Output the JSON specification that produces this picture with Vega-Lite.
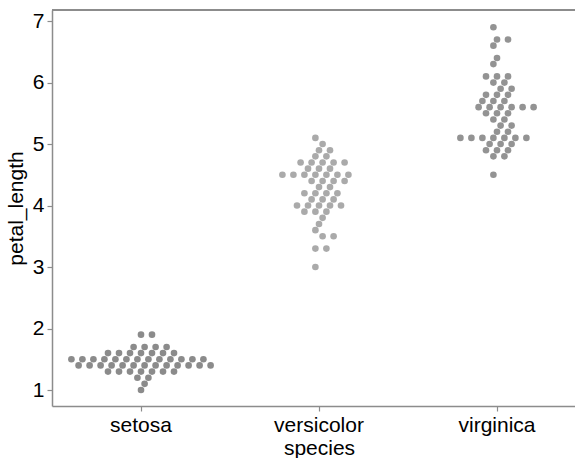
{
  "$schema": "https://vega.github.io/schema/vega-lite/v6.json",
  "width": 534,
  "height": 396,
  "padding": {"left": 5, "top": 9, "right": 0, "bottom": 0},
  "background": "white",
  "config": {
    "font": "Liberation Sans",
    "view": {"stroke": null},
    "axis": {
      "grid": false,
      "domainColor": "#8c8c8c",
      "domainWidth": 1.5,
      "tickColor": "#8c8c8c",
      "tickWidth": 1.2,
      "tickSize": 5,
      "labelColor": "black",
      "labelFontSize": 21,
      "titleFontSize": 21,
      "titleFontWeight": "normal",
      "titleColor": "black",
      "labelPadding": 3
    }
  },
  "data": {
    "values": [
      {"species": "setosa", "petal_length": 1.4}, {"species": "setosa", "petal_length": 1.4}, {"species": "setosa", "petal_length": 1.3}, {"species": "setosa", "petal_length": 1.5}, {"species": "setosa", "petal_length": 1.4},
      {"species": "setosa", "petal_length": 1.7}, {"species": "setosa", "petal_length": 1.4}, {"species": "setosa", "petal_length": 1.5}, {"species": "setosa", "petal_length": 1.4}, {"species": "setosa", "petal_length": 1.5},
      {"species": "setosa", "petal_length": 1.5}, {"species": "setosa", "petal_length": 1.6}, {"species": "setosa", "petal_length": 1.4}, {"species": "setosa", "petal_length": 1.1}, {"species": "setosa", "petal_length": 1.2},
      {"species": "setosa", "petal_length": 1.5}, {"species": "setosa", "petal_length": 1.3}, {"species": "setosa", "petal_length": 1.4}, {"species": "setosa", "petal_length": 1.7}, {"species": "setosa", "petal_length": 1.5},
      {"species": "setosa", "petal_length": 1.7}, {"species": "setosa", "petal_length": 1.5}, {"species": "setosa", "petal_length": 1.0}, {"species": "setosa", "petal_length": 1.7}, {"species": "setosa", "petal_length": 1.9},
      {"species": "setosa", "petal_length": 1.6}, {"species": "setosa", "petal_length": 1.6}, {"species": "setosa", "petal_length": 1.5}, {"species": "setosa", "petal_length": 1.4}, {"species": "setosa", "petal_length": 1.6},
      {"species": "setosa", "petal_length": 1.6}, {"species": "setosa", "petal_length": 1.5}, {"species": "setosa", "petal_length": 1.5}, {"species": "setosa", "petal_length": 1.4}, {"species": "setosa", "petal_length": 1.5},
      {"species": "setosa", "petal_length": 1.2}, {"species": "setosa", "petal_length": 1.3}, {"species": "setosa", "petal_length": 1.4}, {"species": "setosa", "petal_length": 1.3}, {"species": "setosa", "petal_length": 1.5},
      {"species": "setosa", "petal_length": 1.3}, {"species": "setosa", "petal_length": 1.3}, {"species": "setosa", "petal_length": 1.3}, {"species": "setosa", "petal_length": 1.6}, {"species": "setosa", "petal_length": 1.9},
      {"species": "setosa", "petal_length": 1.4}, {"species": "setosa", "petal_length": 1.6}, {"species": "setosa", "petal_length": 1.4}, {"species": "setosa", "petal_length": 1.5}, {"species": "setosa", "petal_length": 1.4},
      {"species": "versicolor", "petal_length": 4.7}, {"species": "versicolor", "petal_length": 4.5}, {"species": "versicolor", "petal_length": 4.9}, {"species": "versicolor", "petal_length": 4.0}, {"species": "versicolor", "petal_length": 4.6},
      {"species": "versicolor", "petal_length": 4.5}, {"species": "versicolor", "petal_length": 4.7}, {"species": "versicolor", "petal_length": 3.3}, {"species": "versicolor", "petal_length": 4.6}, {"species": "versicolor", "petal_length": 3.9},
      {"species": "versicolor", "petal_length": 3.5}, {"species": "versicolor", "petal_length": 4.2}, {"species": "versicolor", "petal_length": 4.0}, {"species": "versicolor", "petal_length": 4.7}, {"species": "versicolor", "petal_length": 3.6},
      {"species": "versicolor", "petal_length": 4.4}, {"species": "versicolor", "petal_length": 4.5}, {"species": "versicolor", "petal_length": 4.1}, {"species": "versicolor", "petal_length": 4.5}, {"species": "versicolor", "petal_length": 3.9},
      {"species": "versicolor", "petal_length": 4.8}, {"species": "versicolor", "petal_length": 4.0}, {"species": "versicolor", "petal_length": 4.9}, {"species": "versicolor", "petal_length": 4.7}, {"species": "versicolor", "petal_length": 4.3},
      {"species": "versicolor", "petal_length": 4.4}, {"species": "versicolor", "petal_length": 4.8}, {"species": "versicolor", "petal_length": 5.0}, {"species": "versicolor", "petal_length": 4.5}, {"species": "versicolor", "petal_length": 3.5},
      {"species": "versicolor", "petal_length": 3.8}, {"species": "versicolor", "petal_length": 3.7}, {"species": "versicolor", "petal_length": 3.9}, {"species": "versicolor", "petal_length": 5.1}, {"species": "versicolor", "petal_length": 4.5},
      {"species": "versicolor", "petal_length": 4.5}, {"species": "versicolor", "petal_length": 4.7}, {"species": "versicolor", "petal_length": 4.4}, {"species": "versicolor", "petal_length": 4.1}, {"species": "versicolor", "petal_length": 4.0},
      {"species": "versicolor", "petal_length": 4.4}, {"species": "versicolor", "petal_length": 4.6}, {"species": "versicolor", "petal_length": 4.0}, {"species": "versicolor", "petal_length": 3.3}, {"species": "versicolor", "petal_length": 4.2},
      {"species": "versicolor", "petal_length": 4.2}, {"species": "versicolor", "petal_length": 4.2}, {"species": "versicolor", "petal_length": 4.3}, {"species": "versicolor", "petal_length": 3.0}, {"species": "versicolor", "petal_length": 4.1},
      {"species": "virginica", "petal_length": 6.0}, {"species": "virginica", "petal_length": 5.1}, {"species": "virginica", "petal_length": 5.9}, {"species": "virginica", "petal_length": 5.6}, {"species": "virginica", "petal_length": 5.8},
      {"species": "virginica", "petal_length": 6.6}, {"species": "virginica", "petal_length": 4.5}, {"species": "virginica", "petal_length": 6.3}, {"species": "virginica", "petal_length": 5.8}, {"species": "virginica", "petal_length": 6.1},
      {"species": "virginica", "petal_length": 5.1}, {"species": "virginica", "petal_length": 5.3}, {"species": "virginica", "petal_length": 5.5}, {"species": "virginica", "petal_length": 5.0}, {"species": "virginica", "petal_length": 5.1},
      {"species": "virginica", "petal_length": 5.3}, {"species": "virginica", "petal_length": 5.5}, {"species": "virginica", "petal_length": 6.7}, {"species": "virginica", "petal_length": 6.9}, {"species": "virginica", "petal_length": 5.0},
      {"species": "virginica", "petal_length": 5.7}, {"species": "virginica", "petal_length": 4.9}, {"species": "virginica", "petal_length": 6.7}, {"species": "virginica", "petal_length": 4.9}, {"species": "virginica", "petal_length": 5.7},
      {"species": "virginica", "petal_length": 6.0}, {"species": "virginica", "petal_length": 4.8}, {"species": "virginica", "petal_length": 4.9}, {"species": "virginica", "petal_length": 5.6}, {"species": "virginica", "petal_length": 5.8},
      {"species": "virginica", "petal_length": 6.1}, {"species": "virginica", "petal_length": 6.4}, {"species": "virginica", "petal_length": 5.6}, {"species": "virginica", "petal_length": 5.1}, {"species": "virginica", "petal_length": 5.6},
      {"species": "virginica", "petal_length": 6.1}, {"species": "virginica", "petal_length": 5.6}, {"species": "virginica", "petal_length": 5.5}, {"species": "virginica", "petal_length": 4.8}, {"species": "virginica", "petal_length": 5.4},
      {"species": "virginica", "petal_length": 5.6}, {"species": "virginica", "petal_length": 5.1}, {"species": "virginica", "petal_length": 5.1}, {"species": "virginica", "petal_length": 5.9}, {"species": "virginica", "petal_length": 5.7},
      {"species": "virginica", "petal_length": 5.2}, {"species": "virginica", "petal_length": 5.0}, {"species": "virginica", "petal_length": 5.2}, {"species": "virginica", "petal_length": 5.4}, {"species": "virginica", "petal_length": 5.1}
    ]
  },
  "layer": [
    {
      "transform": [
        {"window": [{"op": "row_number", "as": "r"}], "groupby": ["species", "petal_length"]},
        {"calculate": "datum.r % 2 == 0 ? datum.r / 2 : -(datum.r - 1) / 2", "as": "j"},
        {"calculate": "round(datum.petal_length * 10) % 3", "as": "k"},
        {"calculate": "datum.j * 11 + (datum.k - 1) * 3.6", "as": "swarm_offset"}
      ],
      "mark": {"type": "circle", "size": 44, "opacity": 1},
      "encoding": {
        "x": {
          "field": "species",
          "type": "nominal",
          "scale": {"paddingInner": 0, "paddingOuter": 0},
          "axis": {"labelAngle": 0, "titlePadding": 2}
        },
        "xOffset": {
          "field": "swarm_offset",
          "type": "quantitative",
          "scale": {"domain": [-89, 89]}
        },
        "y": {
          "field": "petal_length",
          "type": "quantitative",
          "scale": {"domain": [0.74, 7.18], "nice": false, "zero": false},
          "axis": {"values": [1, 2, 3, 4, 5, 6, 7], "format": "d", "titlePadding": 6}
        },
        "color": {
          "field": "species",
          "type": "nominal",
          "scale": {"domain": ["setosa", "versicolor", "virginica"], "range": ["#8b8b8b", "#aaaaaa", "#939393"]},
          "legend": null
        }
      }
    },
    {
      "mark": {"type": "rule", "color": "#8c8c8c", "strokeWidth": 1.5},
      "encoding": {"y": {"datum": 7.18}}
    }
  ]
}
